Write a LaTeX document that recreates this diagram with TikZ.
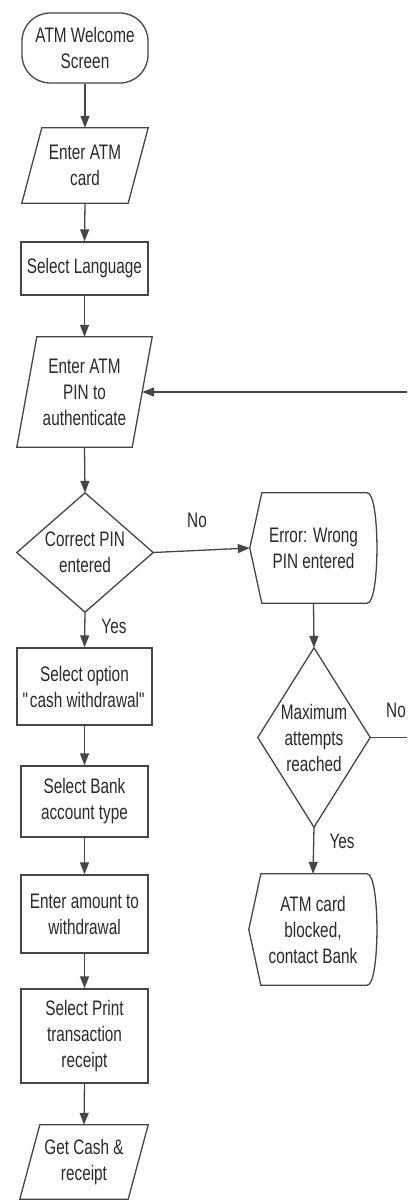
\documentclass[tikz,border=0pt]{standalone}
\usepackage{fontspec}
\setmainfont[FakeStretch=0.73]{Liberation Sans}
\usetikzlibrary{arrows.meta}
\definecolor{linec}{HTML}{464646}
\definecolor{textc}{HTML}{2A2A2A}
\newcommand{\drawpara}[2]{\draw[outline] ([xshift=#2]#1.north west) -- (#1.north east) -- ([xshift=-#2]#1.south east) -- (#1.south west) -- cycle;}
\newcommand{\drawdiam}[1]{\draw[outline] (#1.north) -- (#1.east) -- (#1.south) -- (#1.west) -- cycle;}
\newcommand{\drawdisp}[1]{\draw[outline] ([xshift=12pt]#1.north west) -- ([xshift=-10pt]#1.north east) .. controls ([xshift=3pt]#1.north east) and ([xshift=3pt]#1.south east) .. ([xshift=-10pt]#1.south east) -- ([xshift=12pt]#1.south west) -- (#1.west) -- cycle;}
\begin{document}
\begin{tikzpicture}[x=1pt,y=-1pt,
  outline/.style={draw=linec, line width=1.3pt, line join=miter},
  txt/.style={font=\fontsize{21}{26}\selectfont, text=textc, align=center, inner sep=0pt},
  boxnode/.style={txt, draw=linec, line width=1.3pt},
  bare/.style={txt},
  arr/.style={draw=linec, line width=1.3pt, -{Triangle[length=12pt,width=9pt]}},
  lbl/.style={font=\fontsize{21}{26}\selectfont, text=textc, inner sep=0pt}]
\useasboundingbox (0,0) rectangle (407,1201);
\clip (0,0) rectangle (407,1201);
\fill[white] (0,0) rectangle (407,1201);
% left column
\node[boxnode, rounded corners=28pt, minimum width=126pt, minimum height=70pt] (welcome) at (85,48) {ATM Welcome\\Screen};
\node[bare, minimum width=126pt, minimum height=75pt] (card) at (85,165.5) {Enter ATM\\card};
\node[boxnode, minimum width=127pt, minimum height=53pt] (lang) at (84.5,268.5) {Select Language};
\node[bare, minimum width=135pt, minimum height=110pt] (pin) at (84.5,392) {Enter ATM\\PIN to\\authenticate};
\node[bare, minimum width=136pt, minimum height=119pt] (correct) at (85,552.5) {Correct PIN\\entered};
\node[boxnode, minimum width=135pt, minimum height=77pt] (option) at (84.5,686.5) {Select option\\\textquotedbl cash withdrawal\textquotedbl};
\node[boxnode, minimum width=127pt, minimum height=71pt] (bank) at (84.5,801.5) {Select Bank\\account type};
\node[boxnode, minimum width=127pt, minimum height=78pt] (amount) at (84.5,914) {Enter amount to\\withdrawal};
\node[boxnode, minimum width=127pt, minimum height=94pt] (print) at (84.5,1036) {Select Print\\transaction\\receipt};
\node[bare, minimum width=128pt, minimum height=74pt] (cash) at (84,1162) {Get Cash \&\\receipt};
% right column
\node[bare, minimum width=127pt, minimum height=110pt] (error) at (313.5,548) {Error: Wrong\\PIN entered};
\node[bare, minimum width=112pt, minimum height=179pt] (maxatt) at (314,737.5) {Maximum\\attempts\\reached};
\node[bare, minimum width=128pt, minimum height=111pt] (blocked) at (313,929.5) {ATM card\\blocked,\\contact Bank};
% outlines
\drawpara{card}{20pt}
\drawpara{pin}{20pt}
\drawpara{cash}{20pt}
\drawdiam{correct}
\drawdiam{maxatt}
\drawdisp{error}
\drawdisp{blocked}
% loop coordinate beyond the right edge
\coordinate (loopx) at (416,0);
% connectors
\draw[arr] (welcome.south) -- (card.north);
\draw[arr] (card.south) -- (lang.north);
\draw[arr] (lang.south) -- (pin.north);
\draw[arr] (pin.south) -- (correct.north);
\draw[arr] (correct.south) -- (option.north);
\draw[arr] (option.south) -- (bank.north);
\draw[arr] (bank.south) -- (amount.north);
\draw[arr] (amount.south) -- (print.north);
\draw[arr] (print.south) -- (cash.north);
\draw[arr] (correct.east) -- (error.west);
\draw[arr] (error.south) -- (maxatt.north);
\draw[arr] (maxatt.south) -- (blocked.north);
\draw[arr] (maxatt.east) -- (maxatt.east -| loopx) |- ([xshift=-10pt]pin.east);
% labels
\node[lbl] (lno1) at (197,520) {No};
\node[lbl] (lyes1) at (114,626) {Yes};
\node[lbl] (lno2) at (396,710) {No};
\node[lbl] (lyes2) at (342,841) {Yes};
\end{tikzpicture}
\end{document}
